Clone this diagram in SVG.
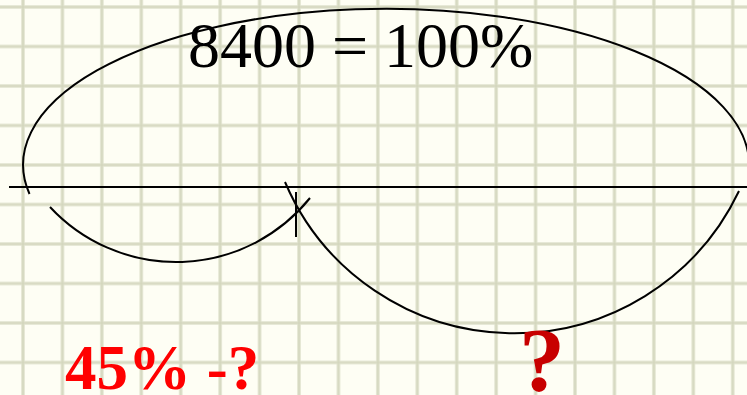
<svg xmlns="http://www.w3.org/2000/svg" width="747" height="395" viewBox="0 0 747 395">
<style>
.grid{stroke:#e0e2cd;stroke-width:3.5;fill:none}
.gridc{stroke:#d2d5bb;stroke-width:1.2;fill:none}
.ln{stroke:#000;stroke-width:2;fill:none}
.big{font-family:"Liberation Serif","Times New Roman",serif;font-size:64px;fill:#000}
.red{font-family:"Liberation Serif","Times New Roman",serif;font-weight:bold;fill:#ff0000}
.q{font-family:"Liberation Serif","Times New Roman",serif;font-weight:bold;fill:#c80000}
</style>
<defs>
<pattern id="g" x="23" y="7" width="39.43" height="39.5" patternUnits="userSpaceOnUse">
<rect width="39.43" height="39.5" fill="#fefef4"/>
<path class="grid" d="M0,0V39.5M39.43,0V39.5M0,0H39.43M0,39.5H39.43"/>
<path class="gridc" d="M0,0V39.5M39.43,0V39.5M0,0H39.43M0,39.5H39.43"/>
</pattern>
</defs>
<rect width="747" height="395" fill="url(#g)"/>
<g id="connectors">
<line class="ln" x1="9" y1="187" x2="747" y2="187"/>
<path class="ln" d="M29.5,194 A363,156 0 1 1 749,168"/>
<path class="ln" d="M50,207 A172,172 0 0 0 310,198"/>
<path class="ln" d="M285,182 A249,249 0 0 0 739,191"/>
<line class="ln" x1="296" y1="192" x2="296" y2="237"/>
</g>
<g id="title"><text class="big" x="188" y="67">8400 = 100%</text></g>
<g id="label45"><text class="red" x="65" y="389" font-size="63">45% -?</text></g>
<g id="question"><text class="q" x="519" y="391" font-size="92">?</text></g>
</svg>
